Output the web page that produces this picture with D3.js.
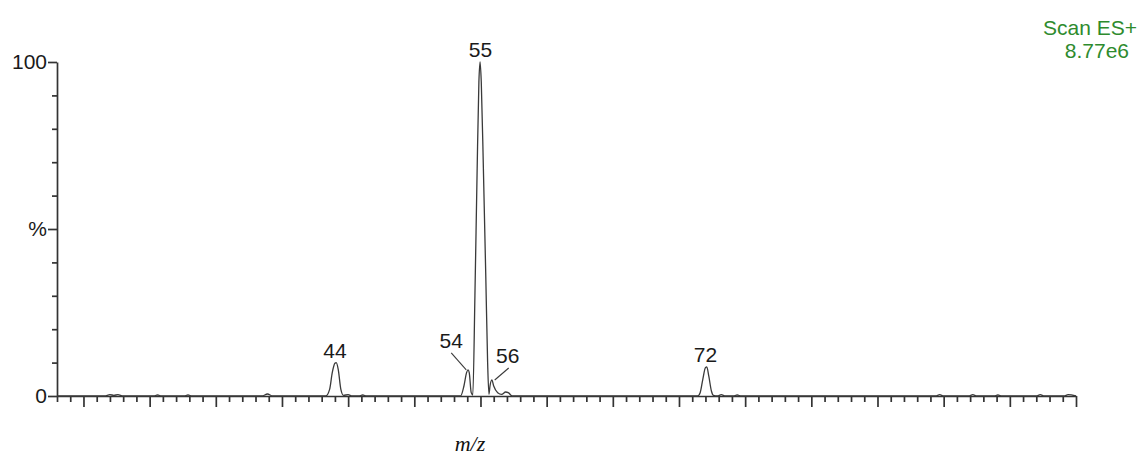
<!DOCTYPE html>
<html>
<head>
<meta charset="utf-8">
<script src="https://cdn.jsdelivr.net/npm/d3@7"></script>
<style>
  body { margin: 0; background: #fff; }
  svg { display: block; font-family: "Liberation Sans", Arial, sans-serif; }
  .axis path, .axis line { stroke: #333; stroke-width: 1.7; }
  .axis text { fill: #1a1a1a; font-size: 21px; }
</style>
</head>
<body>
<div id="chart"></div>
<script>
// profile trace (m/z, % of base peak)
const mzValues = [
  23.0, 26.6, 27.0, 27.3, 27.6, 28.0, 30.3, 30.6, 30.9, 32.6, 32.9, 33.2,
  38.5, 38.9, 39.3,
  43.3, 43.6, 43.8, 44.0, 44.1, 44.25, 44.45, 44.65, 45.0, 45.3, 45.8, 46.1, 46.4,
  53.5, 53.75, 53.95, 54.06, 54.15, 54.3, 54.42,
  54.58, 54.74, 54.88, 54.97, 55.06, 55.22, 55.4, 55.54, 55.64,
  55.72, 55.86, 56.0, 56.3, 56.6, 56.9, 57.1, 57.4,
  71.4, 71.6, 71.8, 72.0, 72.1, 72.25, 72.45, 72.6, 72.9, 73.2, 73.5, 74.1, 74.4, 74.7,
  89.4, 89.7, 90.0, 91.9, 92.2, 92.5, 93.8, 94.1, 94.4, 97.0, 97.3, 97.6, 99.1, 99.4, 100.0
];
const intensityValues = [
  0, 0, 0.4, 0.2, 0.4, 0, 0, 0.3, 0, 0, 0.3, 0,
  0, 0.6, 0,
  0, 2, 7, 9.8, 10, 8, 2, 0.2, 0.4, 0, 0, 0.3, 0,
  0, 3, 7, 7.8, 7, 1, 0.3,
  30, 66, 94, 100, 94, 68, 36, 10, 0.5,
  3, 4.8, 3, 1, 0.5, 1.2, 1, 0,
  0, 1, 5, 8.5, 8.7, 6, 1.5, 0.2, 0, 0.4, 0, 0, 0.3, 0,
  0, 0.4, 0, 0, 0.4, 0, 0, 0.3, 0, 0, 0.4, 0, 0, 0.4, 0
];

const peakMz = [44, 54, 55, 56, 72];
const peakPct = [10, 7.8, 100, 4.8, 8.7];
const peakText = ["44", "54", "55", "56", "72"];

const yTickValues = [0, 10, 20, 30, 40, 50, 60, 70, 80, 90, 100];
const yTickLabels = { 0: "0", 50: "%", 100: "100" };

const width = 1142, height = 459;

let svg = d3.select("#chart").append("svg")
  .attr("width", width)
  .attr("height", height);

let x = d3.scaleLinear().domain([23, 100]).range([57, 1076]);
let y = d3.scaleLinear().domain([0, 100]).range([396, 62]);

// x axis, a tick every unit, long ones every 5
let xAxis = svg.append("g")
  .attr("class", "axis")
  .attr("transform", `translate(0,${y(0)})`)
  .call(d3.axisBottom(x)
    .tickValues(d3.range(23, 101))
    .tickFormat("")
    .tickSizeOuter(0));
xAxis.selectAll(".tick line").attr("y2", d => d % 5 === 0 ? 11 : 6);

let yAxis = svg.append("g")
  .attr("class", "axis")
  .attr("transform", `translate(${x(23)},0)`)
  .call(d3.axisLeft(y)
    .tickValues(yTickValues)
    .tickFormat(d => yTickLabels[d] || "")
    .tickSizeOuter(0));
yAxis.selectAll(".tick line").attr("x2", d => yTickLabels[d] ? -9 : -5);
yAxis.selectAll(".tick text").attr("x", -10);

// spectrum trace
let line = d3.line()
  .x(d => x(d[0]))
  .y(d => y(d[1]))
  .curve(d3.curveMonotoneX);

svg.append("path")
  .datum(d3.zip(mzValues, intensityValues))
  .attr("fill", "none")
  .attr("stroke", "#3a3a3a")
  .attr("stroke-width", 1.3)
  .attr("d", line);

// peak labels; 54 and 56 pushed aside with a leader line
let offsets = { 54: [-16, -22], 56: [14, -17] };

peakMz.forEach((m, i) => {
  let off = offsets[m];
  let px = x(m), py = y(peakPct[i]);
  if (off) {
    svg.append("line")
      .attr("x1", px + (off[0] < 0 ? -1 : 1))
      .attr("y1", py)
      .attr("x2", px + (off[0] < 0 ? off[0] : off[0] + 1))
      .attr("y2", py + off[1] + 5)
      .attr("stroke", "#3a3a3a")
      .attr("stroke-width", 1.1);
    svg.append("text")
      .attr("x", px + off[0])
      .attr("y", py + off[1])
      .attr("text-anchor", "middle")
      .attr("font-size", "21px")
      .attr("fill", "#1a1a1a")
      .text(peakText[i]);
  } else {
    svg.append("text")
      .attr("x", px)
      .attr("y", py - 5)
      .attr("text-anchor", "middle")
      .attr("font-size", "21px")
      .attr("fill", "#1a1a1a")
      .text(peakText[i]);
  }
});

// scan header
svg.append("text")
  .attr("x", 1137).attr("y", 35)
  .attr("text-anchor", "end")
  .attr("font-size", "21px")
  .attr("fill", "#2e8b2e")
  .text("Scan ES+");
svg.append("text")
  .attr("x", 1129).attr("y", 58)
  .attr("text-anchor", "end")
  .attr("font-size", "21px")
  .attr("fill", "#2e8b2e")
  .text("8.77e6");

svg.append("text")
  .attr("x", 470).attr("y", 451)
  .attr("text-anchor", "middle")
  .attr("font-family", "'Liberation Serif', 'Times New Roman', serif")
  .attr("font-style", "italic")
  .attr("font-size", "22px")
  .attr("fill", "#111")
  .text("m/z");
</script>
</body>
</html>
